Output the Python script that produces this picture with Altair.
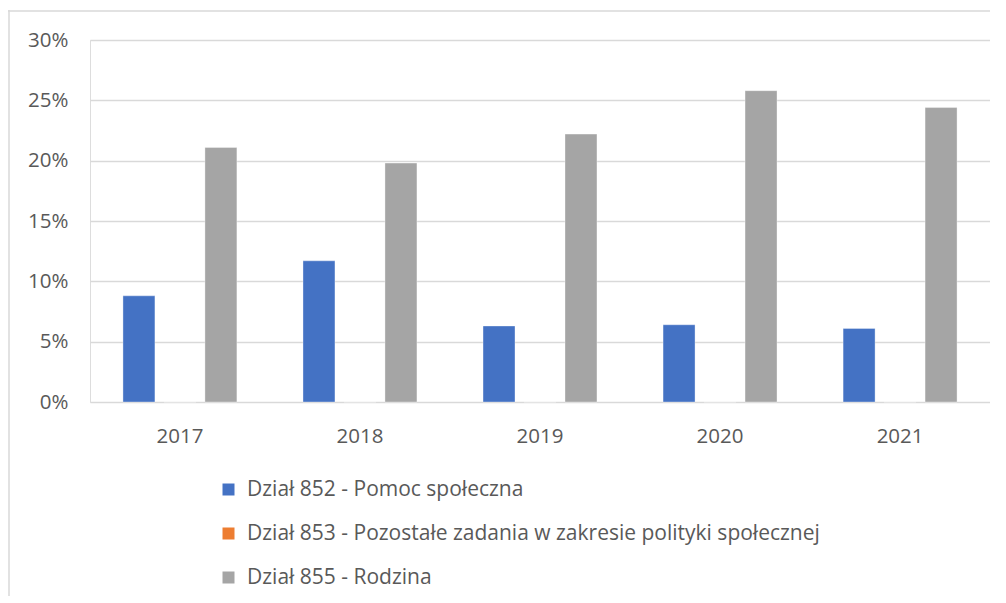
import altair as alt
import pandas as pd

years = ["2017", "2018", "2019", "2020", "2021"]
series = [
    "Dział 852 - Pomoc społeczna",
    "Dział 853 - Pozostałe zadania w zakresie polityki społecznej",
    "Dział 855 - Rodzina",
]
v852 = [0.088, 0.117, 0.063, 0.064, 0.061]
v853 = [0.0, 0.0, 0.0, 0.0, 0.0]
v855 = [0.211, 0.198, 0.222, 0.258, 0.244]
colors = ["#4472C4", "#ED7D31", "#A5A5A5"]

rows = []
for s, vals in zip(series, [v852, v853, v855]):
    for y, v in zip(years, vals):
        rows.append({"rok": y, "seria": s, "wartosc": v})
df = pd.DataFrame(rows)

FONT = "Open Sans"
TXT = "#595959"

bars = alt.Chart(df).mark_bar(stroke="#ffffff", strokeOpacity=0.35, strokeWidth=1).encode(
    x=alt.X("rok:N", sort=years, title=None,
            scale=alt.Scale(paddingInner=0.317, paddingOuter=0.158),
            axis=alt.Axis(labelAngle=0, domain=False, ticks=False, labelPadding=24,
                          labelFontSize=20.5, labelColor=TXT, labelFont=FONT)),
    xOffset=alt.XOffset("seria:N", sort=series,
                        scale=alt.Scale(paddingInner=0.22, paddingOuter=0.11)),
    y=alt.Y("wartosc:Q", title=None,
            scale=alt.Scale(domain=[0, 0.3], nice=False),
            axis=alt.Axis(format=".0%", values=[0, 0.05, 0.1, 0.15, 0.2, 0.25, 0.3],
                          domain=False, ticks=False, labelPadding=22,
                          labelFontSize=20.5, labelColor=TXT, labelFont=FONT,
                          gridColor="#D9D9D9", gridWidth=1.5)),
    color=alt.Color("seria:N", sort=series,
                    scale=alt.Scale(domain=series, range=colors),
                    legend=alt.Legend(title=None, orient="none", legendX=128, legendY=439,
                                      direction="vertical", symbolType="square",
                                      symbolSize=144, symbolStrokeWidth=0,
                                      labelFontSize=21, labelColor=TXT, labelFont=FONT,
                                      rowPadding=22, padding=0, labelOffset=8,
                                      labelLimit=800)),
)

frame = alt.Chart(alt.Data(values=[{"k": 1}])).mark_rule(color="#D9D9D9", strokeWidth=1.5).encode(
    x=alt.value(-81), y=alt.value(-30), y2=alt.value(700)
)
frame_top = alt.Chart(alt.Data(values=[{"k": 1}])).mark_rule(color="#D9D9D9", strokeWidth=1.5).encode(
    x=alt.value(-82), x2=alt.value(1000), y=alt.value(-29)
)

chart = alt.layer(frame, frame_top, bars).properties(
    width=900, height=362,
    padding={"left": 82, "top": 32, "right": 0, "bottom": 194},
    autosize=alt.AutoSizeParams(type="none"),
).configure_view(stroke=None).configure(background="#ffffff")

chart.save("out.html", embed_options={"renderer": "svg", "actions": False})
